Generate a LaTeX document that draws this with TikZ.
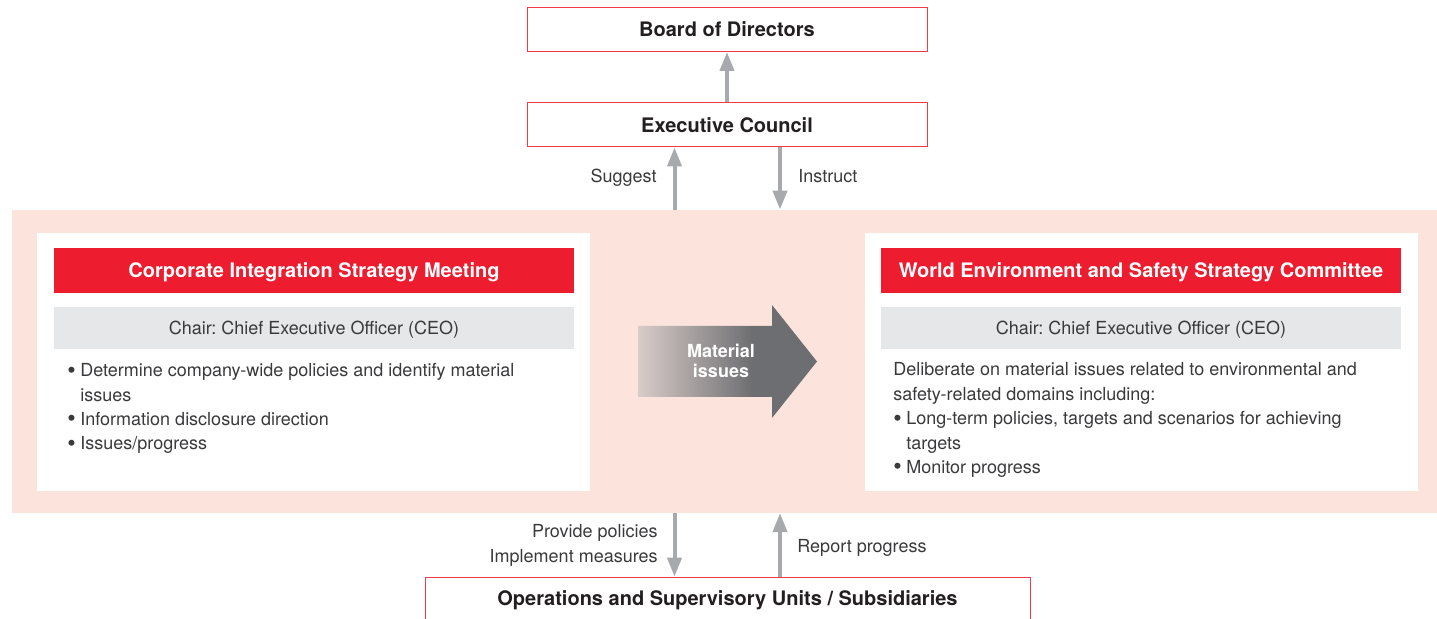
\documentclass[tikz,border=0pt]{standalone}
\usepackage{fontspec}
\setmainfont{TeX Gyre Heros}
\usetikzlibrary{arrows.meta}
\frenchspacing
\definecolor{boxred}{HTML}{ED1C2E}
\definecolor{linered}{HTML}{EE3A4A}
\definecolor{bandpink}{HTML}{FCE4DD}
\definecolor{chairgray}{HTML}{E6E7E8}
\definecolor{flowgray}{HTML}{A7A9AC}
\definecolor{textdark}{HTML}{231F20}
\definecolor{textgray}{HTML}{3A3A3C}
\definecolor{matlight}{HTML}{D9CCC9}
\definecolor{matdark}{HTML}{6D6E71}
\pgfdeclarehorizontalshading{matshade}{100bp}{color(0bp)=(matlight); color(25bp)=(matlight); color(57bp)=(matdark); color(100bp)=(matdark)}
\newcommand{\bulletmark}{\makebox[6.5pt][l]{\raisebox{-0.7pt}{\fontsize{12}{12}\selectfont\textbullet}}}
\newcommand{\bulletgap}{\hspace*{6.5pt}}

\begin{document}
\begin{tikzpicture}[x=0.5pt,y=-0.5pt]
\tikzset{orgbox/.style = {draw=linered,line width=0.5pt,fill=white,minimum width=200pt,minimum height=22pt,inner sep=0pt,text height=7.2pt,text depth=0pt,font=\fontsize{10}{12}\selectfont\bfseries,text=textdark}}
\tikzset{headbox/.style = {fill=boxred,minimum width=260pt,minimum height=22.35pt,inner sep=0pt,text height=7.2pt,text depth=0pt,font=\fontsize{10}{12}\selectfont\bfseries,text=white}}
\tikzset{chairbox/.style = {fill=chairgray,minimum width=260pt,minimum height=20.85pt,inner sep=0pt,text height=6.5pt,text depth=0pt,font=\fontsize{9}{12.2}\selectfont,text=textgray}}
\tikzset{panel/.style = {fill=white,minimum width=276.5pt,minimum height=129pt,inner sep=0pt}}
\tikzset{note/.style = {inner sep=0pt,font=\fontsize{9}{12.2}\selectfont,text=textgray}}
\tikzset{flow/.style = {color=flowgray,line width=2pt,-{Triangle[width=7pt,length=9.5pt]}}}
\useasboundingbox (0,0) rectangle (1437,619);
%\draw (0,0) rectangle (1437,619);
\node[fill=bandpink,minimum width=712.5pt,minimum height=151.35pt,inner sep=0pt] (band) at (724.5,361.35) {};
\node[panel] (leftpanel) at (313.5,361.7) {};
\node[panel] (rightpanel) at (1141.5,361.7) {};
\node[headbox] (lefthead) at (314,270.3) {Corporate Integration Strategy Meeting};
\node[headbox] (righthead) at (1141,270.3) {World Environment and Safety Strategy Committee};
\node[chairbox] (leftchair) at (314,327.85) {Chair: Chief Executive Officer (CEO)};
\node[chairbox] (rightchair) at (1141,327.85) {Chair: Chief Executive Officer (CEO)};
\node[note,anchor=base west] (lefttext) at (67,376.7) {\begin{tabular}[t]{@{}l@{}}
\bulletmark Determine company-wide policies and identify material\\
\bulletgap issues\\
\bulletmark Information disclosure direction\\
\bulletmark Issues/progress
\end{tabular}};
\node[note,anchor=base west] (righttext) at (893,376) {\begin{tabular}[t]{@{}l@{}}
Deliberate on material issues related to environmental and\\
safety-related domains including:\\
\bulletmark Long-term policies, targets and scenarios for achieving\\
\bulletgap targets\\
\bulletmark Monitor progress
\end{tabular}};
% material issues arrow
\shade[shading=matshade] (638,326) -- (772,326) -- (772,305) -- (817,361.5) -- (772,418) -- (772,397) -- (638,397) -- cycle;
\node[inner sep=0pt,anchor=base,text=white,font=\fontsize{9}{10}\selectfont\bfseries] (material) at (721,358) {\begin{tabular}[t]{@{}c@{}}Material\\issues\end{tabular}};
\node[orgbox] (board) at (727,29.5) {Board of Directors};
\node[orgbox] (exec) at (727,125) {Executive Council};
\node[orgbox,anchor=north,minimum width=302.5pt,minimum height=25pt,text depth=4.3pt] (ops) at (727.5,576.7) {Operations and Supervisory Units / Subsidiaries};
\coordinate (lx) at (674.5,0);
\coordinate (rx) at (780,0);
\path[flow]
(exec) edge (board)
(band.north -| lx) edge (exec.south -| lx)
(exec.south -| rx) edge (band.north -| rx)
(band.south -| lx) edge (ops.north -| lx)
(ops.north -| rx) edge (band.south -| rx);
\node[note,anchor=base east] (suggest) at (657,182.3) {Suggest};
\node[note,anchor=base west] (instruct) at (798,182.3) {Instruct};
\node[note,anchor=base east] (provide) at (658,538) {\begin{tabular}[t]{@{}r@{}}Provide policies\\Implement measures\end{tabular}};
\node[note,anchor=base west] (report) at (797,553) {Report progress};
\end{tikzpicture}
\end{document}
